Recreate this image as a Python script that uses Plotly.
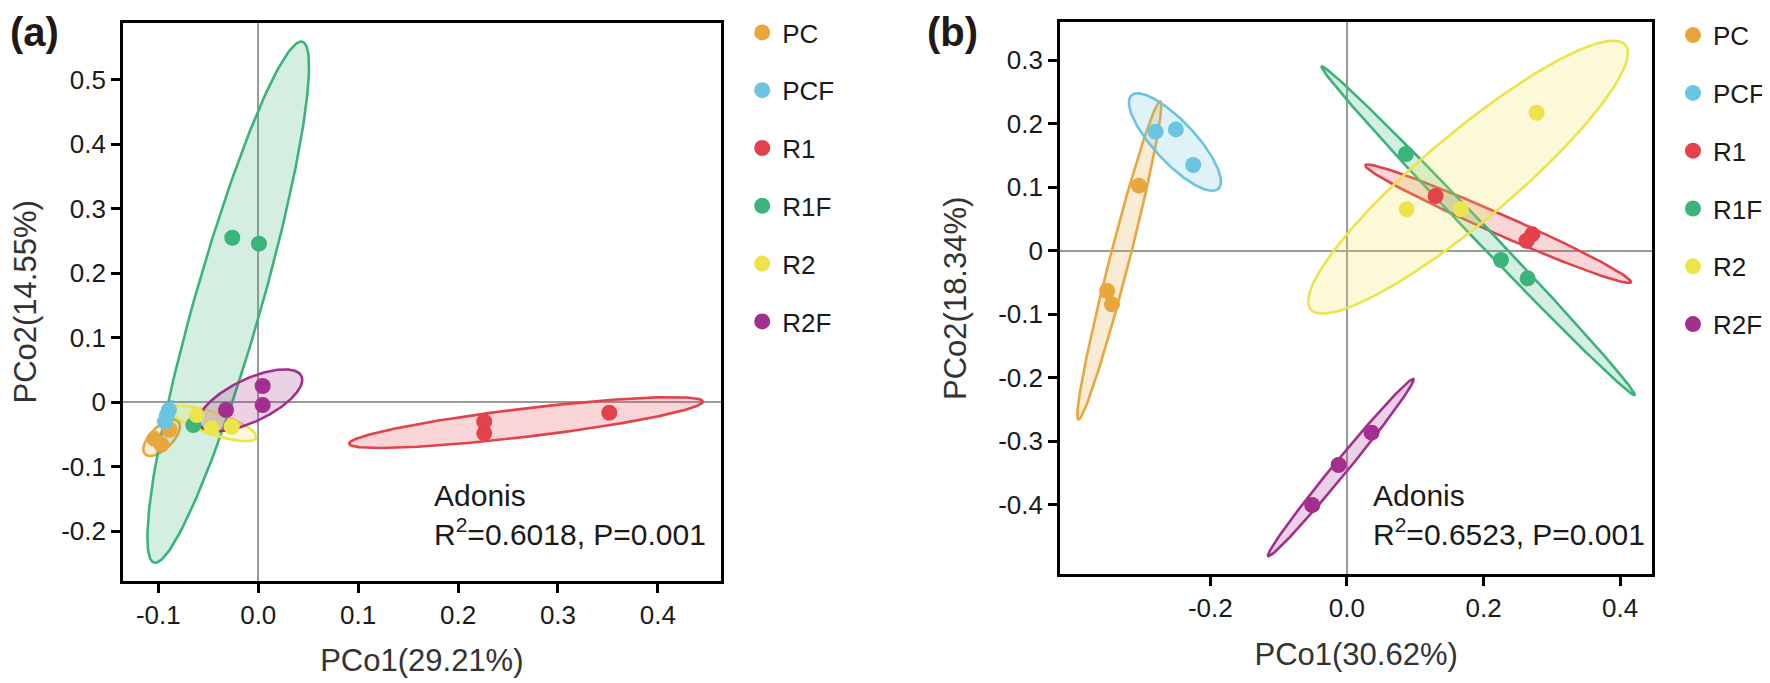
import numpy as np
import plotly.graph_objects as go

groups = ["PC", "PCF", "R1", "R1F", "R2", "R2F"]
colors = ["#E9A63D", "#6DC4E1", "#E3424B", "#3AB47A", "#EDE44B", "#A22F8E"]

# ---- panel (a) sample scores ----
a_pc_x = [-0.089, -0.104, -0.097]
a_pc_y = [-0.043, -0.057, -0.066]
a_pcf_x = [-0.0894, -0.0934, -0.0915]
a_pcf_y = [-0.0124, -0.0305, -0.0205]
a_r1_x = [0.2262, 0.2262, 0.3514]
a_r1_y = [-0.0305, -0.0486, -0.0165]
a_r1f_x = [-0.026, 0.0007, -0.065]
a_r1f_y = [0.2547, 0.2455, -0.0357]
a_r2_x = [-0.0617, -0.0466, -0.0266]
a_r2_y = [-0.0202, -0.0408, -0.0383]
a_r2f_x = [-0.0323, 0.0044, 0.0044]
a_r2f_y = [-0.0124, 0.0248, -0.0047]

# ---- panel (b) sample scores ----
b_pc_x = [-0.3045, -0.351, -0.344]
b_pc_y = [0.1024, -0.0635, -0.0844]
b_pcf_x = [-0.280, -0.2504, -0.225]
b_pcf_y = [0.1874, 0.191, 0.135]
b_r1_x = [0.1298, 0.2713, 0.263]
b_r1_y = [0.0861, 0.0258, 0.0157]
b_r1f_x = [0.0864, 0.2255, 0.2645]
b_r1f_y = [0.1523, -0.0146, -0.0435]
b_r2_x = [0.2777, 0.0874, 0.1669]
b_r2_y = [0.2173, 0.0652, 0.0652]
b_r2f_x = [-0.0508, -0.0122, 0.0361]
b_r2f_y = [-0.4005, -0.3375, -0.2866]

a_xticks = [-0.1, 0.0, 0.1, 0.2, 0.3, 0.4]
a_xticktext = ["-0.1", "0.0", "0.1", "0.2", "0.3", "0.4"]
a_yticks = [-0.2, -0.1, 0.0, 0.1, 0.2, 0.3, 0.4, 0.5]
a_yticktext = ["-0.2", "-0.1", "0", "0.1", "0.2", "0.3", "0.4", "0.5"]
b_xticks = [-0.2, 0.0, 0.2, 0.4]
b_xticktext = ["-0.2", "0.0", "0.2", "0.4"]
b_yticks = [-0.4, -0.3, -0.2, -0.1, 0.0, 0.1, 0.2, 0.3]
b_yticktext = ["-0.4", "-0.3", "-0.2", "-0.1", "0", "0.1", "0.2", "0.3"]

a_stats = "Adonis<br>R<sup>2</sup>=0.6018, P=0.001"
b_stats = "Adonis<br>R<sup>2</sup>=0.6523, P=0.001"

panel_a = [(a_pc_x, a_pc_y), (a_pcf_x, a_pcf_y), (a_r1_x, a_r1_y),
           (a_r1f_x, a_r1f_y), (a_r2_x, a_r2_y), (a_r2f_x, a_r2f_y)]
panel_b = [(b_pc_x, b_pc_y), (b_pcf_x, b_pcf_y), (b_r1_x, b_r1_y),
           (b_r1f_x, b_r1f_y), (b_r2_x, b_r2_y), (b_r2f_x, b_r2f_y)]


def conf_ellipse(x, y, level=0.95, n=240):
    """Normal-theory confidence ellipse from sample covariance (chi-square, 2 df)."""
    pts = np.column_stack([x, y])
    c = pts.mean(axis=0)
    cov = np.cov(pts, rowvar=False)
    vals, vecs = np.linalg.eigh(cov)
    vals = np.clip(vals, 0, None)
    r = np.sqrt(-2.0 * np.log(1.0 - level))
    t = np.linspace(0, 2 * np.pi, n)
    circ = np.vstack([np.cos(t), np.sin(t)])
    e = (vecs @ np.diag(np.sqrt(vals)) @ circ) * r
    return c[0] + e[0], c[1] + e[1]


def rgba(hexc, a):
    h = hexc.lstrip("#")
    return "rgba(%d,%d,%d,%.3f)" % (int(h[0:2], 16), int(h[2:4], 16), int(h[4:6], 16), a)


FONT = "Liberation Sans, Arial, sans-serif"
TXT = "#1a1a1a"

# the page body adds an 8 px offset; the figure is laid out in screen pixels minus it
OFF = 8
W, H = 1770 - OFF, 683 - OFF


def fx(p):
    return (p - OFF) / W


def fy(p):
    return 1 - (p - OFF) / H


fig = go.Figure()

for panel, xa, ya, leg in [(panel_a, "x", "y", "legend"), (panel_b, "x2", "y2", "legend2")]:
    for (gx, gy), g, col in zip(panel, groups, colors):
        ex, ey = conf_ellipse(gx, gy)
        fig.add_trace(go.Scatter(
            x=ex, y=ey, mode="lines", fill="toself",
            fillcolor=rgba(col, 0.22), line=dict(color=col, width=2.6),
            xaxis=xa, yaxis=ya, showlegend=False, hoverinfo="skip",
            legendgroup=g, legend=leg))
    for (gx, gy), g, col in zip(panel, groups, colors):
        fig.add_trace(go.Scatter(
            x=gx, y=gy, mode="markers", name=g,
            marker=dict(color=col, size=16, line=dict(width=0)),
            xaxis=xa, yaxis=ya, legendgroup=g, legend=leg, showlegend=True))

axis_common = dict(
    showline=True, mirror=True, linecolor="black", linewidth=2.7,
    ticks="outside", ticklen=9, tickwidth=2.7, tickcolor="black",
    showgrid=False, zeroline=True, zerolinecolor="#9a9a9a", zerolinewidth=2.2,
    tickfont=dict(family=FONT, size=26, color=TXT),
    automargin=False,
)
title_font = dict(size=31, family=FONT, color="#333333")

fig.update_layout(
    width=W, height=H,
    margin=dict(l=0, r=0, t=0, b=0),
    paper_bgcolor="white", plot_bgcolor="white",
    font=dict(family=FONT, color=TXT),
    xaxis=dict(domain=[fx(123), fx(720.7)], range=[-0.1354, 0.4629], anchor="y",
               tickvals=a_xticks, ticktext=a_xticktext,
               title=dict(text="PCo1(29.21%)", font=title_font, standoff=21),
               **axis_common),
    yaxis=dict(domain=[fy(580.7), fy(23)], range=[-0.277, 0.5876], anchor="x",
               tickvals=a_yticks, ticktext=a_yticktext,
               title=dict(text="PCo2(14.55%)", font=title_font, standoff=27),
               **axis_common),
    xaxis2=dict(domain=[fx(1060), fx(1652.3)], range=[-0.42, 0.447], anchor="y2",
                tickvals=b_xticks, ticktext=b_xticktext,
                title=dict(text="PCo1(30.62%)", font=title_font, standoff=21),
                **axis_common),
    yaxis2=dict(domain=[fy(574.3), fy(22.3)], range=[-0.5096, 0.3597], anchor="x2",
                tickvals=b_yticks, ticktext=b_yticktext,
                title=dict(text="PCo2(18.34%)", font=title_font, standoff=23),
                **axis_common),
    legend=dict(x=fx(742.2), y=fy(9), xanchor="left", yanchor="top",
                font=dict(family=FONT, size=26, color=TXT),
                tracegroupgap=21, itemwidth=30, bgcolor="rgba(0,0,0,0)"),
    legend2=dict(x=1.0, y=fy(11.7), xanchor="right", yanchor="top",
                 font=dict(family=FONT, size=26, color=TXT),
                 tracegroupgap=21, itemwidth=30, bgcolor="rgba(0,0,0,0)"),
    annotations=[
        dict(text="<b>(a)</b>", x=0, y=1, xref="paper", yref="paper",
             xanchor="left", yanchor="top", showarrow=False,
             font=dict(family=FONT, size=40, color="#231815")),
        dict(text="<b>(b)</b>", x=fx(925), y=1, xref="paper", yref="paper",
             xanchor="left", yanchor="top", showarrow=False,
             font=dict(family=FONT, size=40, color="#231815")),
        dict(text=a_stats, x=fx(432), y=fy(514.5), xref="paper", yref="paper",
             xanchor="left", yanchor="middle", align="left", showarrow=False,
             font=dict(family=FONT, size=30, color=TXT)),
        dict(text=b_stats, x=fx(1371), y=fy(514.5), xref="paper", yref="paper",
             xanchor="left", yanchor="middle", align="left", showarrow=False,
             font=dict(family=FONT, size=30, color=TXT)),
    ],
)

fig.write_html("out.html")
